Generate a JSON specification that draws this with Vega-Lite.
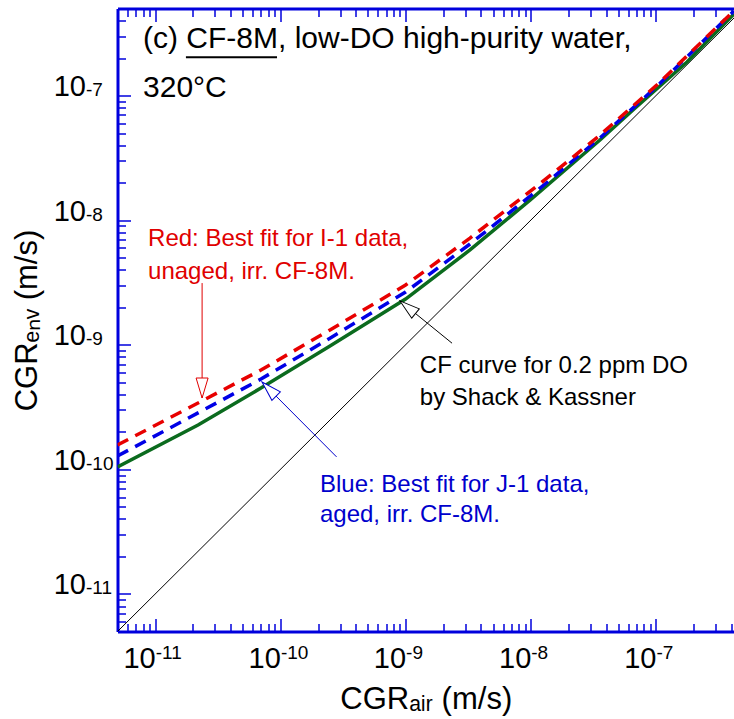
{
  "$schema": "https://vega.github.io/schema/vega-lite/v6.json",
  "autosize": {"type": "none"},
  "padding": {"left": 117.5, "top": 8.5, "right": 0, "bottom": 87.5},
  "width": 616.5,
  "height": 623,
  "background": "white",
  "config": {"view": {"stroke": null}, "font": "Liberation Sans", "axis": {"grid": false}},
  "datasets": {
    "black": [{"x": 5e-12, "y": 5e-12}, {"x": 5e-7, "y": 5e-7}],
    "green": [
      {"x": 5e-12, "y": 1.045e-10}, {"x": 2.2e-11, "y": 2.27e-10}, {"x": 7.0e-11, "y": 4.5e-10},
      {"x": 2.49e-10, "y": 9.77e-10}, {"x": 1.0e-9, "y": 2.33e-9}, {"x": 3.27e-9, "y": 5.77e-9},
      {"x": 9.86e-9, "y": 1.45e-8}, {"x": 3.57e-8, "y": 4.4e-8}, {"x": 6.55e-8, "y": 7.66e-8},
      {"x": 1.77e-7, "y": 1.86e-7}, {"x": 4.2e-7, "y": 4.52e-7}
    ],
    "blue": [
      {"x": 5e-12, "y": 1.28e-10}, {"x": 2.2e-11, "y": 2.84e-10}, {"x": 7.0e-11, "y": 5.31e-10},
      {"x": 2.49e-10, "y": 1.13e-9}, {"x": 1.0e-9, "y": 2.65e-9}, {"x": 3.27e-9, "y": 6.44e-9},
      {"x": 1.143e-8, "y": 1.75e-8}, {"x": 3.57e-8, "y": 4.57e-8}, {"x": 1.02e-7, "y": 1.19e-7},
      {"x": 4.2e-7, "y": 4.78e-7}
    ],
    "red": [
      {"x": 5e-12, "y": 1.57e-10}, {"x": 2.2e-11, "y": 3.41e-10}, {"x": 7.0e-11, "y": 6.28e-10},
      {"x": 2.49e-10, "y": 1.315e-9}, {"x": 1.0e-9, "y": 3.02e-9}, {"x": 3.27e-9, "y": 7.19e-9},
      {"x": 1.143e-8, "y": 1.91e-8}, {"x": 3.44e-8, "y": 4.66e-8}, {"x": 1.02e-7, "y": 1.22e-7},
      {"x": 4.2e-7, "y": 4.8e-7}
    ],
    "titletext": [
      {"x": 8.0e-12, "y": 2.40e-7, "text": "(c) CF-8M, low-DO high-purity water,"},
      {"x": 8.0e-12, "y": 9.8e-8, "text": "320°C"}
    ],
    "underline": [{"x": 1.76e-11, "x2": 9.4e-11, "y": 2.03e-7}],
    "redlabel": [
      {"x": 8.77e-12, "y": 6.21e-9, "text": "Red: Best fit for I-1 data,"},
      {"x": 8.77e-12, "y": 3.37e-9, "text": "unaged, irr. CF-8M."}
    ],
    "cflabel": [
      {"x": 1.30e-9, "y": 5.94e-10, "text": "CF curve for 0.2 ppm DO"},
      {"x": 1.30e-9, "y": 3.29e-10, "text": "by Shack & Kassner"}
    ],
    "bluelabel": [
      {"x": 2.07e-10, "y": 6.59e-11, "text": "Blue: Best fit for J-1 data,"},
      {"x": 2.07e-10, "y": 3.78e-11, "text": "aged, irr. CF-8M."}
    ],
    "redarrow": [{"x": 2.37e-11, "y": 3.13e-9}, {"x": 2.37e-11, "y": 3.74e-10}],
    "bluearrow": [{"x": 2.81e-10, "y": 1.26e-10}, {"x": 7.13e-11, "y": 5.03e-10}],
    "blackarrow": [{"x": 2.35e-9, "y": 1.03e-9}, {"x": 9.02e-10, "y": 2.25e-9}],
    "redhead": [{"x": 2.37e-11, "y": 3.74e-10}],
    "bluehead": [{"x": 7.13e-11, "y": 5.03e-10}],
    "blackhead": [{"x": 9.02e-10, "y": 2.25e-9}]
  },
  "layer": [
    {
      "data": {"name": "black"},
      "mark": {"type": "line", "color": "black", "strokeWidth": 1, "clip": true},
      "encoding": {
        "x": {"field": "x", "type": "quantitative", "scale": {"type": "log", "domain": [5e-12, 4.2e-7], "nice": false},
          "axis": {"orient": "bottom", "values": [1e-11, 1e-10, 1e-9, 1e-8, 1e-7], "labels": false, "tickSize": -13, "tickColor": "#0000dd", "tickWidth": 1.5, "domainColor": "#0000dd", "domainWidth": 3, "title": null}},
        "y": {"field": "y", "type": "quantitative", "scale": {"type": "log", "domain": [5e-12, 5e-7], "nice": false},
          "axis": {"orient": "left", "values": [1e-11, 1e-10, 1e-9, 1e-8, 1e-7], "labels": false, "tickSize": -13, "tickColor": "#0000dd", "tickWidth": 1.5, "domainColor": "#0000dd", "domainWidth": 3, "title": null}}
      }
    },
    {
      "data": {"name": "green"},
      "mark": {"type": "line", "color": "#0b6b1e", "strokeWidth": 3.5, "clip": true},
      "encoding": {
        "x": {"field": "x", "type": "quantitative", "scale": {"type": "log", "domain": [5e-12, 4.2e-7], "nice": false},
          "axis": {"orient": "bottom", "values": [6e-12, 7e-12, 8e-12, 9e-12, 2e-11, 3e-11, 4e-11, 5e-11, 6e-11, 7e-11, 8e-11, 9e-11, 2e-10, 3e-10, 4e-10, 5e-10, 6e-10, 7e-10, 8e-10, 9e-10, 2e-9, 3e-9, 4e-9, 5e-9, 6e-9, 7e-9, 8e-9, 9e-9, 2e-8, 3e-8, 4e-8, 5e-8, 6e-8, 7e-8, 8e-8, 9e-8, 2e-7, 3e-7, 4e-7], "labels": false, "domain": false, "tickSize": -8, "tickColor": "#0000dd", "tickWidth": 1.5, "title": null}},
        "y": {"field": "y", "type": "quantitative", "scale": {"type": "log", "domain": [5e-12, 5e-7], "nice": false},
          "axis": {"orient": "left", "values": [6e-12, 7e-12, 8e-12, 9e-12, 2e-11, 3e-11, 4e-11, 5e-11, 6e-11, 7e-11, 8e-11, 9e-11, 2e-10, 3e-10, 4e-10, 5e-10, 6e-10, 7e-10, 8e-10, 9e-10, 2e-9, 3e-9, 4e-9, 5e-9, 6e-9, 7e-9, 8e-9, 9e-9, 2e-8, 3e-8, 4e-8, 5e-8, 6e-8, 7e-8, 8e-8, 9e-8, 2e-7, 3e-7, 4e-7], "labels": false, "domain": false, "tickSize": -8, "tickColor": "#0000dd", "tickWidth": 1.5, "title": null}}
      }
    },
    {
      "data": {"name": "blue"},
      "mark": {"type": "line", "color": "#0000e6", "strokeWidth": 3.5, "strokeDash": [12, 8], "clip": true},
      "encoding": {
        "x": {"field": "x", "type": "quantitative", "scale": {"type": "log", "domain": [5e-12, 4.2e-7], "nice": false},
          "axis": {"orient": "bottom", "values": [1e-11, 1e-10, 1e-9, 1e-8, 1e-7], "ticks": false, "domain": false, "labelExpr": "'10'", "labelAlign": "right", "labelBaseline": "alphabetic", "labelPadding": 36, "labelDx": -1, "labelFontSize": 29, "labelColor": "black", "labelFlush": false, "labelOverlap": false, "title": null}},
        "y": {"field": "y", "type": "quantitative", "scale": {"type": "log", "domain": [5e-12, 5e-7], "nice": false},
          "axis": {"orient": "left", "values": [1e-11, 1e-10, 1e-9, 1e-8, 1e-7], "ticks": false, "domain": false, "labelExpr": "'10'", "labelAlign": "right", "labelBaseline": "alphabetic", "labelPadding": 32, "labelDy": 8, "labelFontSize": 29, "labelColor": "black", "labelFlush": false, "labelOverlap": false, "title": null}}
      }
    },
    {
      "data": {"name": "red"},
      "mark": {"type": "line", "color": "#e80000", "strokeWidth": 3.5, "strokeDash": [12, 8], "clip": true},
      "encoding": {
        "x": {"field": "x", "type": "quantitative", "scale": {"type": "log", "domain": [5e-12, 4.2e-7], "nice": false},
          "axis": {"orient": "bottom", "values": [1e-11, 1e-10, 1e-9, 1e-8, 1e-7], "ticks": false, "domain": false, "labelExpr": "'-' + (-round(log(datum.value) / LN10))", "labelAlign": "left", "labelBaseline": "alphabetic", "labelPadding": 26.5, "labelDx": 0, "labelFontSize": 19, "labelColor": "black", "labelFlush": false, "labelOverlap": false, "title": null}},
        "y": {"field": "y", "type": "quantitative", "scale": {"type": "log", "domain": [5e-12, 5e-7], "nice": false},
          "axis": {"orient": "left", "values": [1e-11, 1e-10, 1e-9, 1e-8, 1e-7], "ticks": false, "domain": false, "labelExpr": "'-' + (-round(log(datum.value) / LN10))", "labelAlign": "left", "labelBaseline": "alphabetic", "labelPadding": 32, "labelDy": -3, "labelFontSize": 19, "labelColor": "black", "labelFlush": false, "labelOverlap": false, "title": null}}
      }
    },
    {
      "data": {"name": "titletext"},
      "mark": {"type": "text", "align": "left", "baseline": "alphabetic", "fontSize": 30, "color": "black"},
      "encoding": {
        "x": {"field": "x", "type": "quantitative", "scale": {"type": "log", "domain": [5e-12, 4.2e-7], "nice": false},
          "axis": {"orient": "top", "values": [1e-11, 1e-10, 1e-9, 1e-8, 1e-7], "labels": false, "tickSize": -13, "tickColor": "#0000dd", "tickWidth": 1.5, "domainColor": "#0000dd", "domainWidth": 3, "title": null}},
        "y": {"field": "y", "type": "quantitative", "scale": {"type": "log", "domain": [5e-12, 5e-7], "nice": false},
          "axis": {"orient": "left", "labels": false, "ticks": false, "domain": false, "title": "CGRₑₙᵥ (m/s)", "titleFontSize": 31, "titleFontWeight": "normal", "titleColor": "black", "titleBaseline": "alphabetic", "titlePadding": 81.5}},
        "text": {"field": "text"}
      }
    },
    {
      "data": {"name": "underline"},
      "mark": {"type": "rule", "color": "black", "strokeWidth": 2},
      "encoding": {
        "x": {"field": "x", "type": "quantitative", "scale": {"type": "log", "domain": [5e-12, 4.2e-7], "nice": false},
          "axis": {"orient": "top", "values": [6e-12, 7e-12, 8e-12, 9e-12, 2e-11, 3e-11, 4e-11, 5e-11, 6e-11, 7e-11, 8e-11, 9e-11, 2e-10, 3e-10, 4e-10, 5e-10, 6e-10, 7e-10, 8e-10, 9e-10, 2e-9, 3e-9, 4e-9, 5e-9, 6e-9, 7e-9, 8e-9, 9e-9, 2e-8, 3e-8, 4e-8, 5e-8, 6e-8, 7e-8, 8e-8, 9e-8, 2e-7, 3e-7, 4e-7], "labels": false, "domain": false, "tickSize": -8, "tickColor": "#0000dd", "tickWidth": 1.5, "title": null}},
        "x2": {"field": "x2"},
        "y": {"field": "y", "type": "quantitative", "scale": {"type": "log", "domain": [5e-12, 5e-7], "nice": false}, "axis": null}
      }
    },
    {
      "data": {"name": "redlabel"},
      "mark": {"type": "text", "align": "left", "baseline": "alphabetic", "fontSize": 24, "color": "#e00000"},
      "encoding": {
        "x": {"field": "x", "type": "quantitative", "scale": {"type": "log", "domain": [5e-12, 4.2e-7], "nice": false},
          "axis": {"orient": "bottom", "labels": false, "ticks": false, "domain": false, "title": "CGRₐᵢᵣ (m/s)", "titleFontSize": 31, "titleFontWeight": "normal", "titleColor": "black", "titleBaseline": "alphabetic", "titlePadding": 77}},
        "y": {"field": "y", "type": "quantitative", "scale": {"type": "log", "domain": [5e-12, 5e-7], "nice": false}, "axis": null},
        "text": {"field": "text"}
      }
    },
    {
      "data": {"name": "cflabel"},
      "mark": {"type": "text", "align": "left", "baseline": "alphabetic", "fontSize": 24, "color": "black"},
      "encoding": {
        "x": {"field": "x", "type": "quantitative", "scale": {"type": "log", "domain": [5e-12, 4.2e-7], "nice": false}, "axis": null},
        "y": {"field": "y", "type": "quantitative", "scale": {"type": "log", "domain": [5e-12, 5e-7], "nice": false}, "axis": null},
        "text": {"field": "text"}
      }
    },
    {
      "data": {"name": "bluelabel"},
      "mark": {"type": "text", "align": "left", "baseline": "alphabetic", "fontSize": 24, "color": "#0000cc"},
      "encoding": {
        "x": {"field": "x", "type": "quantitative", "scale": {"type": "log", "domain": [5e-12, 4.2e-7], "nice": false}, "axis": null},
        "y": {"field": "y", "type": "quantitative", "scale": {"type": "log", "domain": [5e-12, 5e-7], "nice": false}, "axis": null},
        "text": {"field": "text"}
      }
    },
    {
      "data": {"name": "redarrow"},
      "mark": {"type": "line", "color": "#e00000", "strokeWidth": 1},
      "encoding": {
        "x": {"field": "x", "type": "quantitative", "scale": {"type": "log", "domain": [5e-12, 4.2e-7], "nice": false}, "axis": null},
        "y": {"field": "y", "type": "quantitative", "scale": {"type": "log", "domain": [5e-12, 5e-7], "nice": false}, "axis": null}
      }
    },
    {
      "data": {"name": "bluearrow"},
      "mark": {"type": "line", "color": "#0000cc", "strokeWidth": 1},
      "encoding": {
        "x": {"field": "x", "type": "quantitative", "scale": {"type": "log", "domain": [5e-12, 4.2e-7], "nice": false}, "axis": null},
        "y": {"field": "y", "type": "quantitative", "scale": {"type": "log", "domain": [5e-12, 5e-7], "nice": false}, "axis": null}
      }
    },
    {
      "data": {"name": "blackarrow"},
      "mark": {"type": "line", "color": "black", "strokeWidth": 1},
      "encoding": {
        "x": {"field": "x", "type": "quantitative", "scale": {"type": "log", "domain": [5e-12, 4.2e-7], "nice": false}, "axis": null},
        "y": {"field": "y", "type": "quantitative", "scale": {"type": "log", "domain": [5e-12, 5e-7], "nice": false}, "axis": null}
      }
    },
    {
      "data": {"name": "redhead"},
      "mark": {"type": "point", "shape": "M0,0L0.3,1L-0.3,1Z", "size": 1600, "angle": 180, "filled": true, "fill": "white", "stroke": "#e00000", "strokeWidth": 1, "opacity": 1},
      "encoding": {
        "x": {"field": "x", "type": "quantitative", "scale": {"type": "log", "domain": [5e-12, 4.2e-7], "nice": false}, "axis": null},
        "y": {"field": "y", "type": "quantitative", "scale": {"type": "log", "domain": [5e-12, 5e-7], "nice": false}, "axis": null}
      }
    },
    {
      "data": {"name": "bluehead"},
      "mark": {"type": "point", "shape": "M0,0L0.3,1L-0.3,1Z", "size": 1600, "angle": 315, "filled": true, "fill": "white", "stroke": "#0000cc", "strokeWidth": 1, "opacity": 1},
      "encoding": {
        "x": {"field": "x", "type": "quantitative", "scale": {"type": "log", "domain": [5e-12, 4.2e-7], "nice": false}, "axis": null},
        "y": {"field": "y", "type": "quantitative", "scale": {"type": "log", "domain": [5e-12, 5e-7], "nice": false}, "axis": null}
      }
    },
    {
      "data": {"name": "blackhead"},
      "mark": {"type": "point", "shape": "M0,0L0.3,1L-0.3,1Z", "size": 1600, "angle": 309, "filled": true, "fill": "white", "stroke": "black", "strokeWidth": 1, "opacity": 1},
      "encoding": {
        "x": {"field": "x", "type": "quantitative", "scale": {"type": "log", "domain": [5e-12, 4.2e-7], "nice": false}, "axis": null},
        "y": {"field": "y", "type": "quantitative", "scale": {"type": "log", "domain": [5e-12, 5e-7], "nice": false}, "axis": null}
      }
    }
  ],
  "resolve": {"axis": {"x": "independent", "y": "independent"}}
}
